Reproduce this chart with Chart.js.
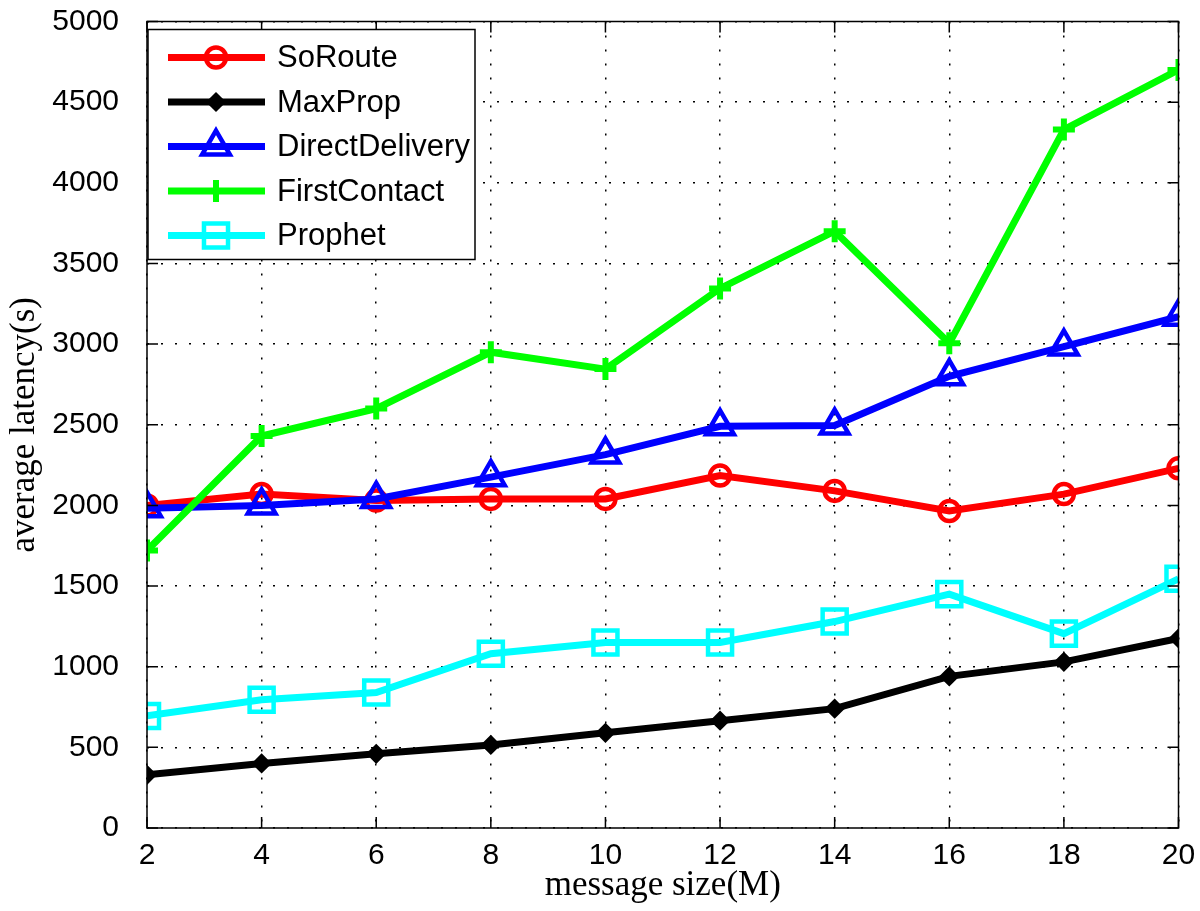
<!DOCTYPE html>
<html>
<head>
<meta charset="utf-8">
<script src="https://cdn.jsdelivr.net/npm/chart.js@4/dist/chart.umd.min.js"></script>
<style>
  html, body { margin: 0; padding: 0; background: #fff; }
  #wrap { width: 1200px; height: 911px; }
</style>
</head>
<body>
<div id="wrap"><canvas id="c" width="1200" height="911"></canvas></div>
<script>
// message size (M)
var sizes = [2, 4, 6, 8, 10, 12, 14, 16, 18, 20];

// average latency (s)
var soRoute        = [2000, 2070, 2030, 2040, 2040, 2185, 2090, 1965, 2070, 2230];
var maxProp        = [330, 400, 460, 515, 590, 665, 740, 940, 1030, 1175];
var directDelivery = [1983, 2000, 2040, 2175, 2315, 2490, 2495, 2800, 2985, 3170];
var firstContact   = [1720, 2430, 2600, 2950, 2845, 3345, 3700, 3005, 4330, 4700];
var prophet        = [695, 795, 840, 1080, 1150, 1150, 1280, 1450, 1205, 1545];

var yTicks = [0, 500, 1000, 1500, 2000, 2500, 3000, 3500, 4000, 4500, 5000];

function pts(vals) {
	return sizes.map(function (s, i) { return { x: s, y: vals[i] }; });
}

function serie(label, vals, color, style, radius, bw, fill, order) {
	return {
		label: label,
		data: pts(vals),
		borderColor: color,
		backgroundColor: color,
		borderWidth: 7,
		pointStyle: style,
		pointRadius: radius,
		pointHoverRadius: radius,
		pointBorderWidth: bw,
		pointBorderColor: color,
		pointBackgroundColor: fill ? color : 'rgba(0,0,0,0)',
		tension: 0,
		fill: false,
		order: order
	};
}

var datasets = [
	serie('SoRoute', soRoute, '#ff0000', 'circle', 10, 4.5, false, 5),
	serie('MaxProp', maxProp, '#000000', 'rectRot', 8, 3, true, 4),
	serie('DirectDelivery', directDelivery, '#0000ff', 'triangle', 16, 4.5, false, 3),
	serie('FirstContact', firstContact, '#00ff00', 'cross', 11, 6, false, 2),
	serie('Prophet', prophet, '#00ffff', 'rect', 17, 4.5, false, 1)
];

// box around the plot plus inward tick marks
var boxPlugin = {
	id: 'box',
	afterDraw: function (chart) {
		var ctx = chart.ctx, a = chart.chartArea;
		var xs = chart.scales.x, ys = chart.scales.y;
		ctx.save();
		ctx.strokeStyle = '#000';
		ctx.lineWidth = 1.5;
		ctx.strokeRect(a.left, a.top, a.right - a.left, a.bottom - a.top);
		ctx.beginPath();
		yTicks.forEach(function (v) {
			var y = ys.getPixelForValue(v);
			ctx.moveTo(a.left, y); ctx.lineTo(a.left + 11, y);
			ctx.moveTo(a.right, y); ctx.lineTo(a.right - 11, y);
		});
		sizes.forEach(function (s) {
			var x = xs.getPixelForValue(s);
			ctx.moveTo(x, a.bottom); ctx.lineTo(x, a.bottom - 11);
			ctx.moveTo(x, a.top); ctx.lineTo(x, a.top + 11);
		});
		ctx.stroke();
		ctx.restore();
	}
};

// legend drawn inside the top left corner
var legendPlugin = {
	id: 'boxLegend',
	afterDraw: function (chart) {
		var ctx = chart.ctx, a = chart.chartArea;
		var left = a.left + 1, top = a.top + 8, w = 327, h = 230;
		ctx.save();
		ctx.fillStyle = '#fff';
		ctx.fillRect(left, top, w, h);
		ctx.strokeStyle = '#000';
		ctx.lineWidth = 1.5;
		ctx.strokeRect(left, top, w, h);
		ctx.font = '31px "Liberation Sans", Arial, sans-serif';
		ctx.textBaseline = 'middle';
		chart.data.datasets.forEach(function (ds, i) {
			var y = top + 28 + i * 44.5;
			ctx.strokeStyle = ds.borderColor;
			ctx.lineWidth = ds.borderWidth;
			ctx.beginPath();
			ctx.moveTo(left + 20, y);
			ctx.lineTo(left + 117, y);
			ctx.stroke();
			ctx.fillStyle = ds.pointBackgroundColor;
			ctx.strokeStyle = ds.pointBorderColor;
			ctx.lineWidth = ds.pointBorderWidth;
			Chart.helpers.drawPoint(ctx, {
				pointStyle: ds.pointStyle,
				radius: ds.pointRadius,
				borderWidth: ds.pointBorderWidth,
				rotation: 0
			}, left + 68, y);
			ctx.fillStyle = '#000';
			ctx.fillText(ds.label, left + 129, y + 1);
		});
		ctx.restore();
	}
};

var tickFont = { family: '"Liberation Sans", Arial, sans-serif', size: 30, lineHeight: 1.1 };
var titleFont = { family: '"Liberation Serif", "Times New Roman", serif', size: 35 };

var chart = new Chart(document.getElementById('c').getContext('2d'), {
	type: 'line',
	data: { datasets: datasets },
	options: {
		responsive: false,
		animation: false,
		layout: { padding: { top: 17, right: 14, left: 0, bottom: 0 } },
		plugins: { legend: { display: false }, tooltip: { enabled: false } },
		scales: {
			x: {
				type: 'linear',
				min: 2,
				max: 20,
				afterFit: function (s) { s.height = 83; },
				afterBuildTicks: function (s) { s.ticks = sizes.map(function (v) { return { value: v }; }); },
				ticks: {
					color: '#000',
					padding: 0,
					font: tickFont,
					callback: function (v) { return String(v); }
				},
				grid: { color: '#000', lineWidth: 1.5, drawTicks: true, tickLength: 11, tickColor: 'rgba(0,0,0,0)' },
				border: { display: false, dash: [2, 12] },
				title: {
					display: true,
					text: 'message size(M)',
					color: '#000',
					padding: { top: 0, bottom: 4 },
					font: titleFont
				}
			},
			y: {
				min: 0,
				max: 5000,
				afterFit: function (s) { s.width = 147; },
				afterBuildTicks: function (s) { s.ticks = yTicks.map(function (v) { return { value: v }; }); },
				ticks: {
					color: '#000',
					padding: 0,
					font: tickFont,
					callback: function (v) { return String(v); }
				},
				grid: { color: '#000', lineWidth: 1.5, drawTicks: true, tickLength: 28, tickColor: 'rgba(0,0,0,0)' },
				border: { display: false, dash: [2, 12] },
				title: {
					display: true,
					text: 'average latency(s)',
					color: '#000',
					padding: { top: 4, bottom: 0 },
					font: titleFont
				}
			}
		}
	},
	plugins: [boxPlugin, legendPlugin]
});
</script>
</body>
</html>
